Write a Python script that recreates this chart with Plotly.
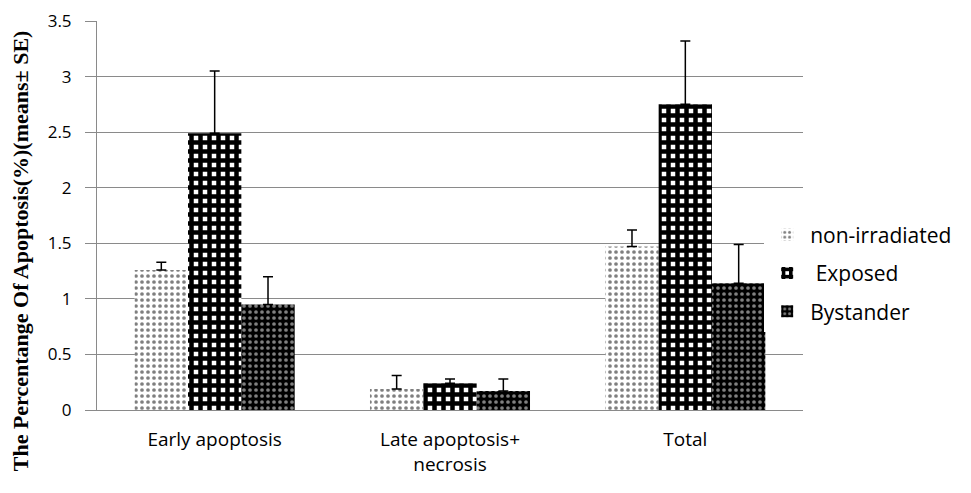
import plotly.graph_objects as go

categories = ["Early apoptosis", "Late apoptosis+<br>necrosis", "Total"]
series_names = ["non-irradiated", "Exposed", "Bystander"]
non_irradiated = [1.26, 0.19, 1.47]
non_irradiated_se = [0.07, 0.12, 0.15]
exposed = [2.49, 0.24, 2.75]
exposed_se = [0.56, 0.04, 0.57]
bystander = [0.95, 0.17, 1.14]
bystander_se = [0.25, 0.11, 0.35]
y_ticks = [0, 0.5, 1, 1.5, 2, 2.5, 3, 3.5]
y_ticklabels = ["0", "0.5", "1", "1.5", "2", "2.5", "3", "3.5"]

styles = [
    dict(color="white", pattern=dict(shape=".", fgcolor="black", bgcolor="white", size=6, solidity=0.3)),
    dict(color="black", pattern=dict(shape="+", fgcolor="black", bgcolor="white", size=9, solidity=0.75, fgopacity=1)),
    dict(color="black", pattern=dict(shape=".", fgcolor="white", bgcolor="black", size=6, solidity=0.3)),
]

fig = go.Figure()
for i, (name, vals, se) in enumerate(zip(series_names,
                                         [non_irradiated, exposed, bystander],
                                         [non_irradiated_se, exposed_se, bystander_se])):
    fig.add_trace(go.Bar(
        x=categories, y=vals, name=(" " + name if i == 1 else name),
        legendgroup=str(i),
        marker=dict(color=styles[i]["color"], pattern=styles[i]["pattern"], line=dict(width=0)),
        error_y=dict(type="data", array=se, arrayminus=[0] * len(se), symmetric=False,
                     color="black", thickness=1.5, width=5),
    ))

fig.update_layout(
    width=971, height=493,
    margin=dict(l=89, r=176, t=13, b=91, autoexpand=False),
    paper_bgcolor="white", plot_bgcolor="white",
    barmode="group", bargap=0.32, bargroupgap=0,
    font=dict(family="Open Sans, sans-serif", size=18, color="black"),
    legend=dict(x=0.945, xanchor="left", y=0.352, yanchor="middle",
                font=dict(size=21, family="Open Sans"), tracegroupgap=8,
                traceorder="grouped", itemwidth=36),
    showlegend=True,
)
fig.update_yaxes(
    range=[0, 3.5], tickvals=y_ticks, ticktext=y_ticklabels,
    showgrid=True, gridcolor="#8a8a8a", gridwidth=1,
    showline=True, linecolor="#8a8a8a", linewidth=1,
    ticks="outside", ticklen=11, tickcolor="#8a8a8a",
    ticklabelstandoff=10, ticklabeloverflow="allow",
    tickfont=dict(size=17), zeroline=False,
)
fig.update_xaxes(
    showline=True, linecolor="#8a8a8a", linewidth=1,
    ticks="", ticklabelstandoff=12, tickfont=dict(size=19),
)
fig.add_annotation(
    text="<b>The Percentange Of Apoptosis(%)(means± SE)</b>",
    textangle=-90, xref="paper", yref="paper",
    x=-0.108, y=0.41, xanchor="center", yanchor="middle",
    showarrow=False, font=dict(family="Liberation Serif", size=22, color="black"),
)

fig.write_html("out.html")
